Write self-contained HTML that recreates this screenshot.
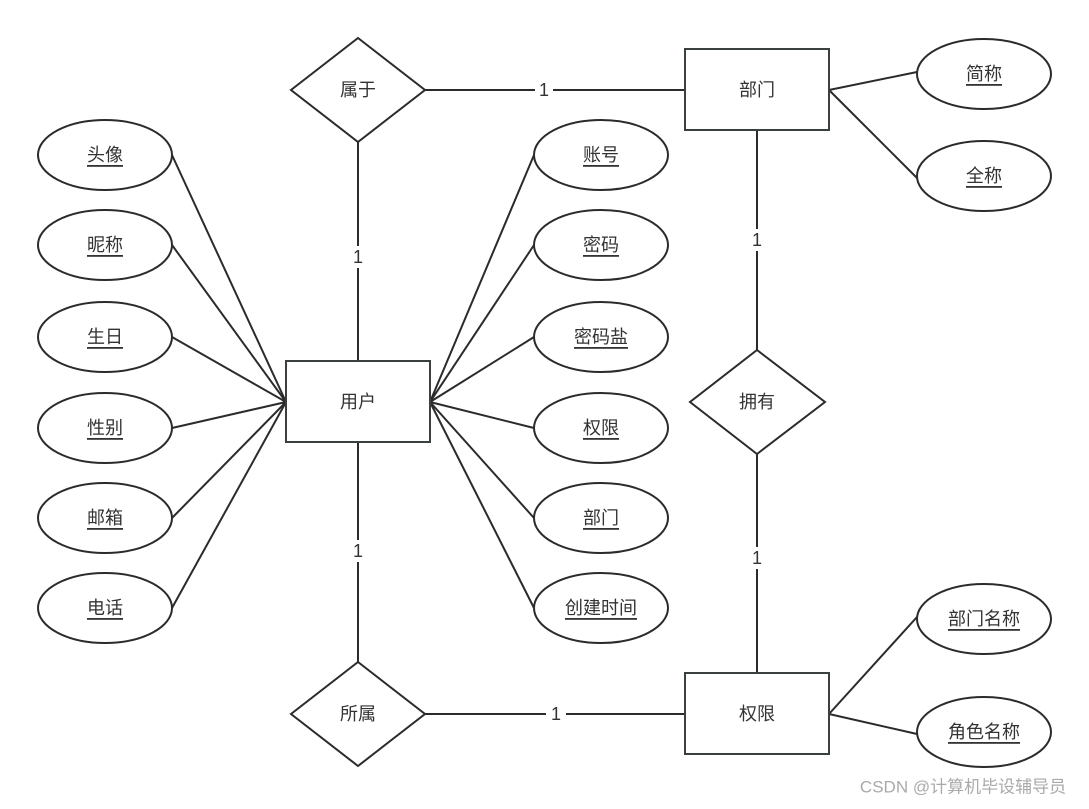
<!DOCTYPE html>
<html><head><meta charset="utf-8"><style>
body{margin:0;background:#fff}
svg text{font-family:"Liberation Sans","Noto Sans CJK SC",sans-serif;font-size:18px;fill:#333;text-anchor:middle;dominant-baseline:central}
</style></head><body>
<svg width="1089" height="804" xmlns="http://www.w3.org/2000/svg">
<g stroke="#2b2b2b" stroke-width="2" fill="none">
<line x1="425" y1="90" x2="685" y2="90"/>
<line x1="358" y1="142" x2="358" y2="361"/>
<line x1="757" y1="130" x2="757" y2="350"/>
<line x1="757" y1="454" x2="757" y2="673"/>
<line x1="358" y1="442" x2="358" y2="662"/>
<line x1="425" y1="714" x2="685" y2="714"/>
<line x1="829" y1="90" x2="917" y2="72"/>
<line x1="829" y1="90" x2="917" y2="178"/>
<line x1="829" y1="714" x2="917" y2="617"/>
<line x1="829" y1="714" x2="917" y2="734"/>
<line x1="286" y1="402" x2="172" y2="155"/>
<line x1="286" y1="402" x2="172" y2="245"/>
<line x1="286" y1="402" x2="172" y2="337"/>
<line x1="286" y1="402" x2="172" y2="428"/>
<line x1="286" y1="402" x2="172" y2="518"/>
<line x1="286" y1="402" x2="172" y2="608"/>
<line x1="430" y1="402" x2="534" y2="155"/>
<line x1="430" y1="402" x2="534" y2="245"/>
<line x1="430" y1="402" x2="534" y2="337"/>
<line x1="430" y1="402" x2="534" y2="428"/>
<line x1="430" y1="402" x2="534" y2="518"/>
<line x1="430" y1="402" x2="534" y2="608"/>
</g>
<g fill="#fff">
<rect x="535" y="80" width="18" height="20"/><rect x="348" y="246" width="20" height="22"/>
<rect x="747" y="229" width="20" height="22"/><rect x="348" y="540" width="20" height="22"/>
<rect x="747" y="547" width="20" height="22"/><rect x="546" y="704" width="20" height="20"/>
</g>
<text x="544" y="90">1</text><text x="358" y="257">1</text><text x="757" y="240">1</text>
<text x="358" y="551">1</text><text x="757" y="558">1</text><text x="556" y="714">1</text>
<g stroke="#2b2b2b" stroke-width="2" fill="#fff">
<polygon points="358,38 425,90 358,142 291,90"/>
<polygon points="757,350 825,402 757,454 690,402"/>
<polygon points="358,662 425,714 358,766 291,714"/>
<rect x="685" y="49" width="144" height="81" stroke="#3a3f40"/>
<rect x="286" y="361" width="144" height="81" stroke="#3a3f40"/>
<rect x="685" y="673" width="144" height="81" stroke="#3a3f40"/>
<ellipse cx="984" cy="74" rx="67" ry="35"/><ellipse cx="984" cy="176" rx="67" ry="35"/>
<ellipse cx="984" cy="619" rx="67" ry="35"/><ellipse cx="984" cy="732" rx="67" ry="35"/>
<ellipse cx="105" cy="155" rx="67" ry="35"/><ellipse cx="105" cy="245" rx="67" ry="35"/>
<ellipse cx="105" cy="337" rx="67" ry="35"/><ellipse cx="105" cy="428" rx="67" ry="35"/>
<ellipse cx="105" cy="518" rx="67" ry="35"/><ellipse cx="105" cy="608" rx="67" ry="35"/>
<ellipse cx="601" cy="155" rx="67" ry="35"/><ellipse cx="601" cy="245" rx="67" ry="35"/>
<ellipse cx="601" cy="337" rx="67" ry="35"/><ellipse cx="601" cy="428" rx="67" ry="35"/>
<ellipse cx="601" cy="518" rx="67" ry="35"/><ellipse cx="601" cy="608" rx="67" ry="35"/>
</g>
<text x="358" y="90">属于</text><text x="757" y="402">拥有</text><text x="358" y="714">所属</text>
<text x="757" y="90">部门</text><text x="358" y="402">用户</text><text x="757" y="714">权限</text>
<g>
<text x="984" y="74" text-decoration="underline">简称</text><text x="984" y="176" text-decoration="underline">全称</text>
<text x="984" y="619" text-decoration="underline">部门名称</text><text x="984" y="732" text-decoration="underline">角色名称</text>
<text x="105" y="155" text-decoration="underline">头像</text><text x="105" y="245" text-decoration="underline">昵称</text>
<text x="105" y="337" text-decoration="underline">生日</text><text x="105" y="428" text-decoration="underline">性别</text>
<text x="105" y="518" text-decoration="underline">邮箱</text><text x="105" y="608" text-decoration="underline">电话</text>
<text x="601" y="155" text-decoration="underline">账号</text><text x="601" y="245" text-decoration="underline">密码</text>
<text x="601" y="337" text-decoration="underline">密码盐</text><text x="601" y="428" text-decoration="underline">权限</text>
<text x="601" y="518" text-decoration="underline">部门</text><text x="601" y="608" text-decoration="underline">创建时间</text>
</g>
<text x="963" y="787" style="font-size:17px;fill:#aaa">CSDN @计算机毕设辅导员</text>
</svg>
</body></html>
